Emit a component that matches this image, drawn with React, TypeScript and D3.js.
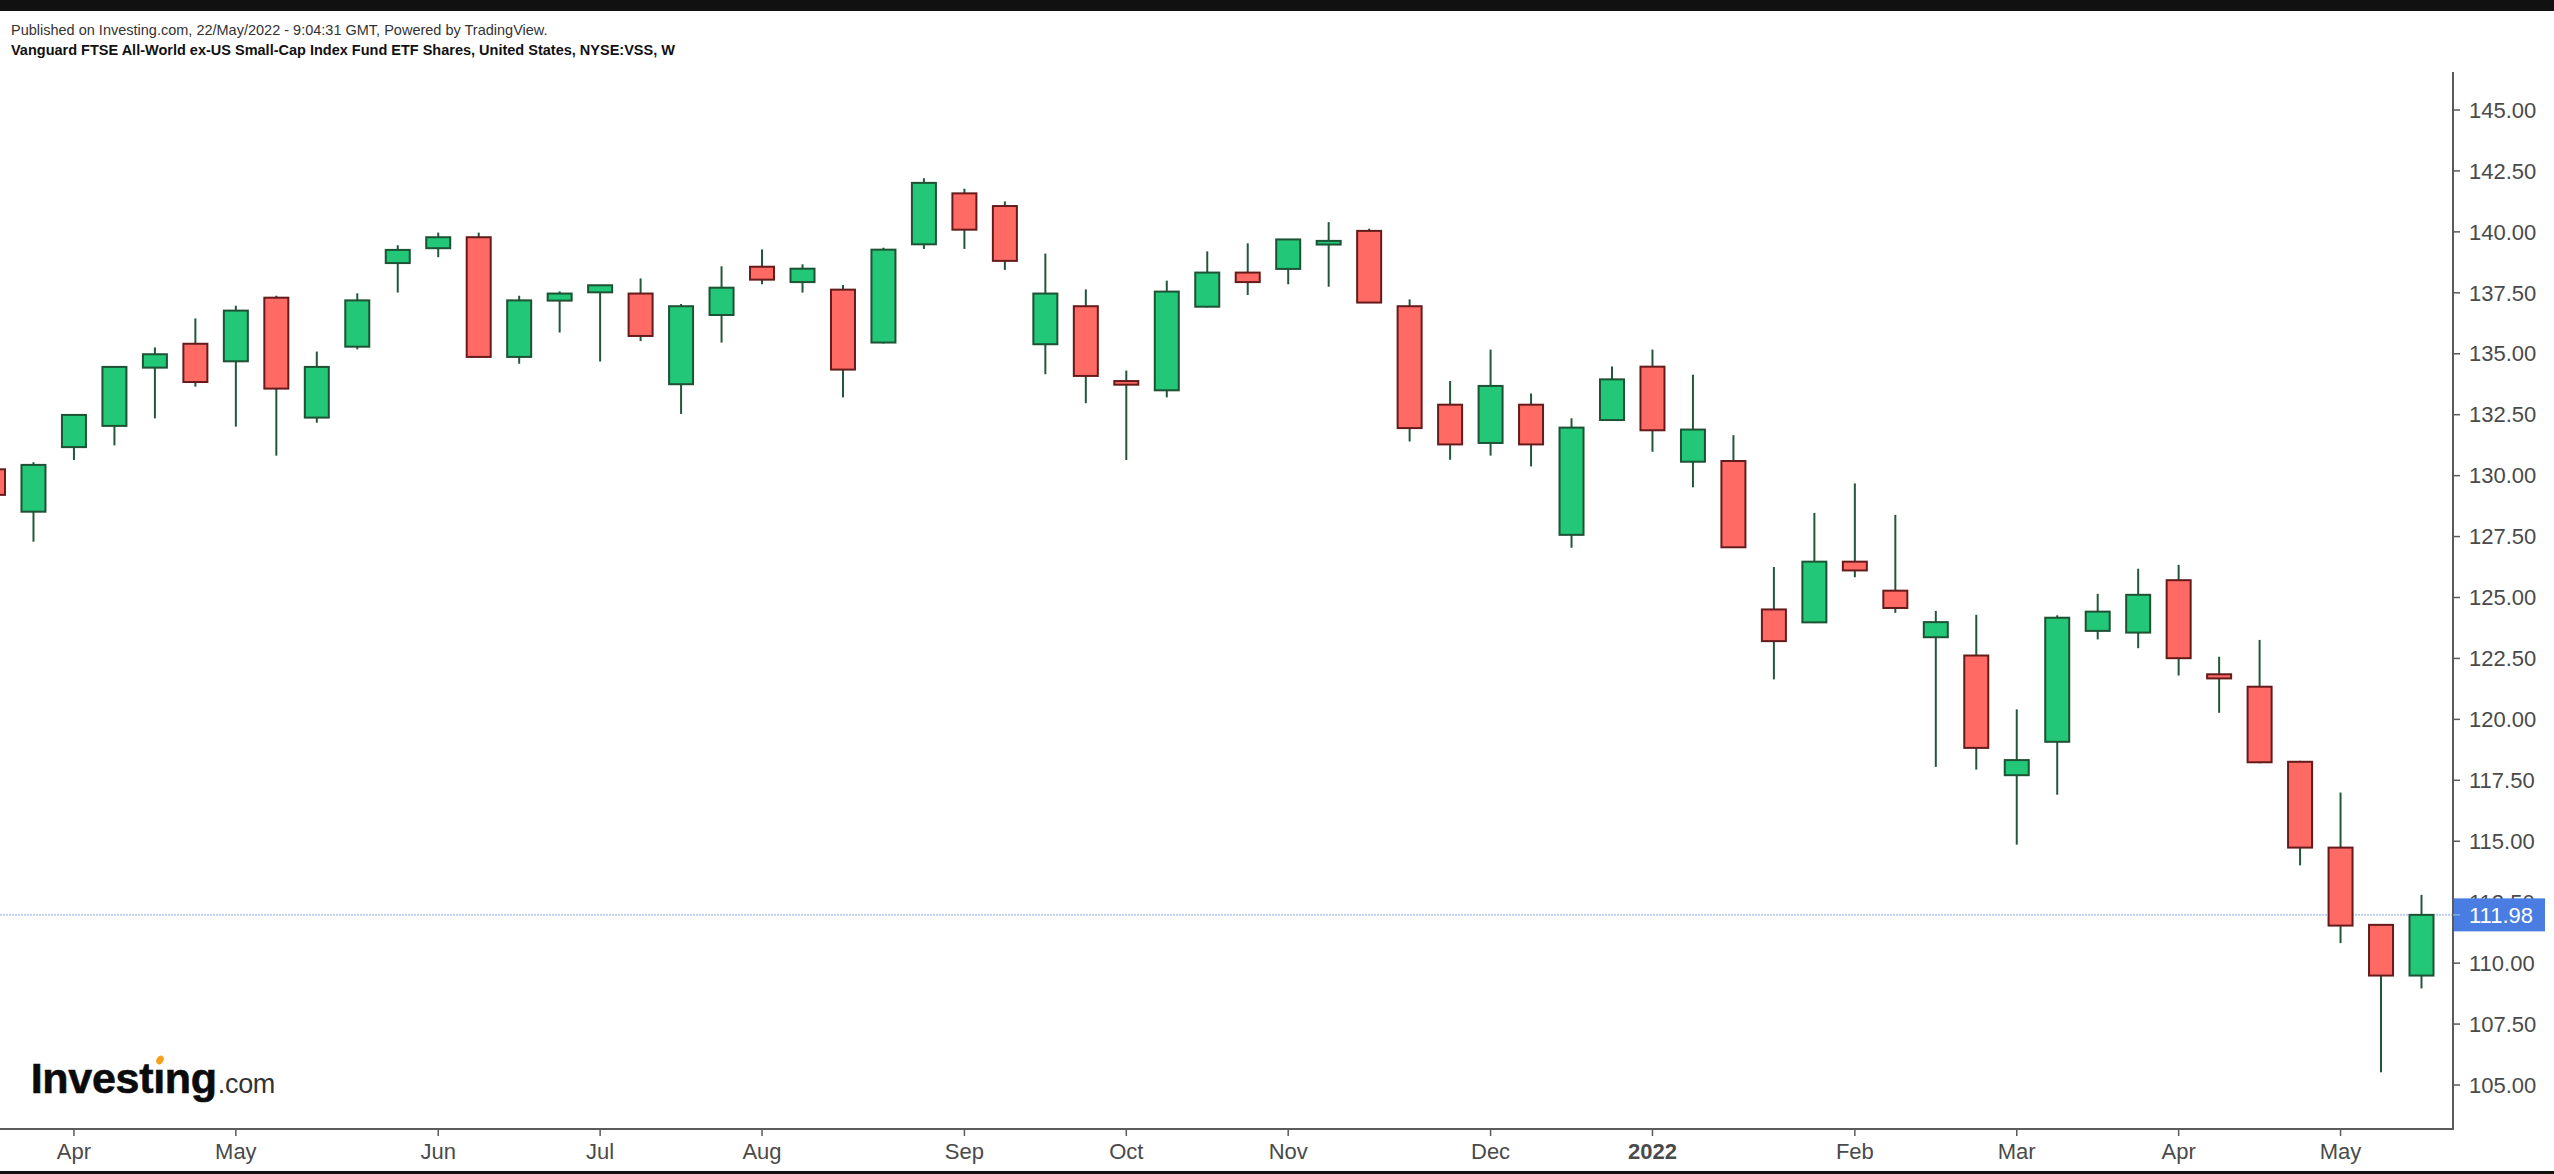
import React, { useEffect } from 'react';
import * as d3 from 'd3';

const W = 2554;
const H = 1174;

const dates = [
  '2021-03-22', '2021-03-29', '2021-04-05', '2021-04-12', '2021-04-19', '2021-04-26',
  '2021-05-03', '2021-05-10', '2021-05-17', '2021-05-24', '2021-05-31', '2021-06-07',
  '2021-06-14', '2021-06-21', '2021-06-28', '2021-07-05', '2021-07-12', '2021-07-19',
  '2021-07-26', '2021-08-02', '2021-08-09', '2021-08-16', '2021-08-23', '2021-08-30',
  '2021-09-06', '2021-09-13', '2021-09-20', '2021-09-27', '2021-10-04', '2021-10-11',
  '2021-10-18', '2021-10-25', '2021-11-01', '2021-11-08', '2021-11-15', '2021-11-22',
  '2021-11-29', '2021-12-06', '2021-12-13', '2021-12-20', '2021-12-27', '2022-01-03',
  '2022-01-10', '2022-01-17', '2022-01-24', '2022-01-31', '2022-02-07', '2022-02-14',
  '2022-02-21', '2022-02-28', '2022-03-07', '2022-03-14', '2022-03-21', '2022-03-28',
  '2022-04-04', '2022-04-11', '2022-04-18', '2022-04-25', '2022-05-02', '2022-05-09',
  '2022-05-16',
];

const opens = [
  130.26, 128.52, 131.17, 132.04, 134.43, 135.41, 134.69, 137.30, 132.38, 135.29,
  138.72, 139.33, 139.78, 134.87, 137.18, 137.52, 137.47, 133.75, 136.59, 138.57,
  137.94, 137.63, 135.46, 139.49, 141.58, 141.06, 135.39, 136.95, 133.88, 133.50,
  136.93, 138.33, 138.48, 139.48, 140.04, 136.95, 132.91, 131.34, 132.91, 127.57,
  132.28, 134.47, 130.57, 130.60, 124.51, 123.98, 126.47, 125.28, 123.37, 122.62,
  117.71, 119.08, 123.63, 123.56, 125.71, 121.85, 121.34, 118.26, 114.74, 111.57,
  109.49,
];
const highs = [
  130.40, 130.55, 132.52, 134.48, 135.26, 136.45, 136.97, 137.38, 135.09, 137.48,
  139.45, 139.97, 139.97, 137.38, 137.56, 137.83, 138.09, 137.04, 138.59, 139.28,
  138.67, 137.82, 139.35, 142.20, 141.77, 141.25, 139.11, 137.64, 134.31, 138.00,
  139.20, 139.53, 139.69, 140.40, 140.13, 137.23, 133.88, 135.17, 133.37, 132.35,
  134.48, 135.17, 134.14, 131.66, 126.25, 128.47, 129.68, 128.39, 124.45, 124.29,
  120.41, 124.27, 125.15, 126.18, 126.34, 122.57, 123.26, 118.30, 117.00, 111.60,
  112.80,
];
const lows = [
  129.00, 127.29, 130.64, 131.24, 132.35, 133.65, 132.01, 130.82, 132.17, 135.18,
  137.51, 138.96, 134.85, 134.59, 135.87, 134.68, 135.52, 132.53, 135.46, 137.85,
  137.51, 133.21, 135.42, 139.30, 139.30, 138.44, 134.16, 132.97, 130.64, 133.21,
  136.90, 137.41, 137.85, 137.75, 137.10, 131.40, 130.65, 130.82, 130.38, 127.04,
  132.25, 130.98, 129.52, 127.06, 121.64, 123.95, 125.83, 124.37, 118.05, 117.94,
  114.86, 116.91, 123.28, 122.92, 121.80, 120.27, 118.20, 114.01, 110.82, 105.52,
  108.96,
];
const closes = [
  129.21, 130.44, 132.49, 134.46, 134.98, 133.84, 136.77, 133.57, 134.46, 137.19,
  139.26, 139.78, 134.87, 137.19, 137.47, 137.81, 135.73, 136.95, 137.71, 138.04,
  138.49, 134.35, 139.27, 142.01, 140.09, 138.81, 137.47, 134.09, 133.73, 137.55,
  138.33, 137.94, 139.69, 139.63, 137.10, 131.95, 131.28, 133.68, 131.28, 131.97,
  133.95, 131.86, 131.89, 127.06, 123.21, 126.47, 126.11, 124.57, 123.99, 118.83,
  118.33, 124.17, 124.42, 125.11, 122.51, 121.68, 118.24, 114.74, 111.54, 109.49,
  111.98,
];

const yTickValues = [
  105, 107.5, 110, 112.5, 115, 117.5, 120, 122.5, 125, 127.5, 130, 132.5, 135,
  137.5, 140, 142.5, 145,
];
const lastPrice = 111.98;

const headerLine1 = 'Published on Investing.com, 22/May/2022 - 9:04:31 GMT, Powered by TradingView.';
const headerLine2 =
  'Vanguard FTSE All-World ex-US Small-Cap Index Fund ETF Shares, United States, NYSE:VSS, W';

const UP_FILL = '#22c777';
const UP_BORDER = '#1e5234';
const DOWN_FILL = '#ff6b64';
const DOWN_BORDER = '#651b1b';
const WICK = '#22573a';
const AXIS = '#5b5b5b';
const LABEL = '#4a4a4a';
const FONT = '"Liberation Sans", Arial, Helvetica, sans-serif';

export default function App() {
  useEffect(() => {
    document.body.style.margin = '0';
    document.body.style.overflow = 'hidden';
  }, []);

  const axisX = 2453;
  const axisTop = 72;
  const axisBottom = 1129;

  const x = d3.scaleLinear().domain([0, 60]).range([-7, 2421.5]);
  const y = d3.scaleLinear().domain([105, 145]).range([1085, 110]);

  const parse = d3.timeParse('%Y-%m-%d');
  const parsed = dates.map((d) => parse(d) as Date);
  const monthFmt = d3.timeFormat('%b');
  const yearFmt = d3.timeFormat('%Y');
  const monthTicks = parsed
    .map((d, i) => ({ d, i }))
    .filter(({ d, i }) => i > 0 && d.getMonth() !== parsed[i - 1].getMonth());

  const yFmt = d3.format('.2f');
  const bodyW = 24;

  return (
    <svg
      width={W}
      height={H}
      viewBox={`0 0 ${W} ${H}`}
      style={{ position: 'absolute', left: 0, top: 0, display: 'block', background: '#fff' }}
      fontFamily={FONT}
    >
      <rect x={0} y={0} width={W} height={H} fill="#ffffff" />
      <rect x={0} y={0} width={W} height={11} fill="#111111" />
      <rect x={0} y={1171} width={W} height={3} fill="#111111" />

      <text x={11} y={34.5} fontSize={14.5} fill="#333">
        {headerLine1}
      </text>
      <text x={11} y={54.5} fontSize={14.5} fontWeight="bold" fill="#111">
        {headerLine2}
      </text>

      {/* price line */}
      <line
        x1={0}
        x2={axisX}
        y1={y(lastPrice)}
        y2={y(lastPrice)}
        stroke="#9db5ee"
        strokeWidth={1.2}
        strokeDasharray="2,1"
      />

      {/* candles */}
      <g>
        {dates.map((d, i) => {
          const o = opens[i];
          const c = closes[i];
          const up = c >= o;
          const cx = x(i);
          const top = y(Math.max(o, c));
          const bot = y(Math.min(o, c));
          return (
            <g key={d}>
              <line
                x1={cx}
                x2={cx}
                y1={y(highs[i])}
                y2={y(lows[i])}
                stroke={WICK}
                strokeWidth={2}
              />
              <rect
                x={cx - bodyW / 2}
                y={top}
                width={bodyW}
                height={Math.max(1, bot - top)}
                fill={up ? UP_FILL : DOWN_FILL}
                stroke={up ? UP_BORDER : DOWN_BORDER}
                strokeWidth={2}
              />
            </g>
          );
        })}
      </g>

      {/* axes */}
      <line x1={axisX} x2={axisX} y1={axisTop} y2={axisBottom + 1} stroke={AXIS} strokeWidth={2} />
      <line x1={0} x2={axisX + 1} y1={axisBottom} y2={axisBottom} stroke={AXIS} strokeWidth={2} />

      {yTickValues.map((v) => (
        <g key={v}>
          <line x1={axisX} x2={axisX + 7} y1={y(v)} y2={y(v)} stroke={AXIS} strokeWidth={1.5} />
          <text x={2469} y={y(v)} dy="0.35em" fontSize={22} fill={LABEL}>
            {yFmt(v)}
          </text>
        </g>
      ))}

      {monthTicks.map(({ d, i }) => {
        const isYear = d.getMonth() === 0;
        return (
          <g key={i}>
            <line
              x1={x(i)}
              x2={x(i)}
              y1={axisBottom}
              y2={axisBottom + 7}
              stroke={AXIS}
              strokeWidth={1.5}
            />
            <text
              x={x(i)}
              y={1159}
              textAnchor="middle"
              fontSize={22}
              fontWeight={isYear ? 'bold' : 'normal'}
              fill={LABEL}
            >
              {isYear ? yearFmt(d) : monthFmt(d)}
            </text>
          </g>
        );
      })}

      {/* last price label */}
      <rect x={axisX + 1} y={y(lastPrice) - 16.5} width={91} height={33} fill="#4a7de2" />
      <line
        x1={axisX}
        x2={axisX + 7}
        y1={y(lastPrice)}
        y2={y(lastPrice)}
        stroke="#9db5ee"
        strokeWidth={1.2}
      />
      <text x={2469} y={y(lastPrice)} dy="0.35em" fontSize={22} fill="#ffffff">
        {yFmt(lastPrice)}
      </text>

      {/* logo */}
      <text x={30.7} y={1093} fontSize={43} fontWeight="bold" fill="#0b0b0b" stroke="#0b0b0b" strokeWidth={0.6} letterSpacing={-0.3}>
        {'Invest\u0131ng'}
        <tspan fontSize={27} fontWeight="normal" fill="#333" stroke="none" dx={1}>
          .com
        </tspan>
      </text>
      <ellipse cx={160} cy={1060} rx={3.4} ry={4.6} fill="#f5a11c" transform="rotate(30 160 1060)" />
    </svg>
  );
}
